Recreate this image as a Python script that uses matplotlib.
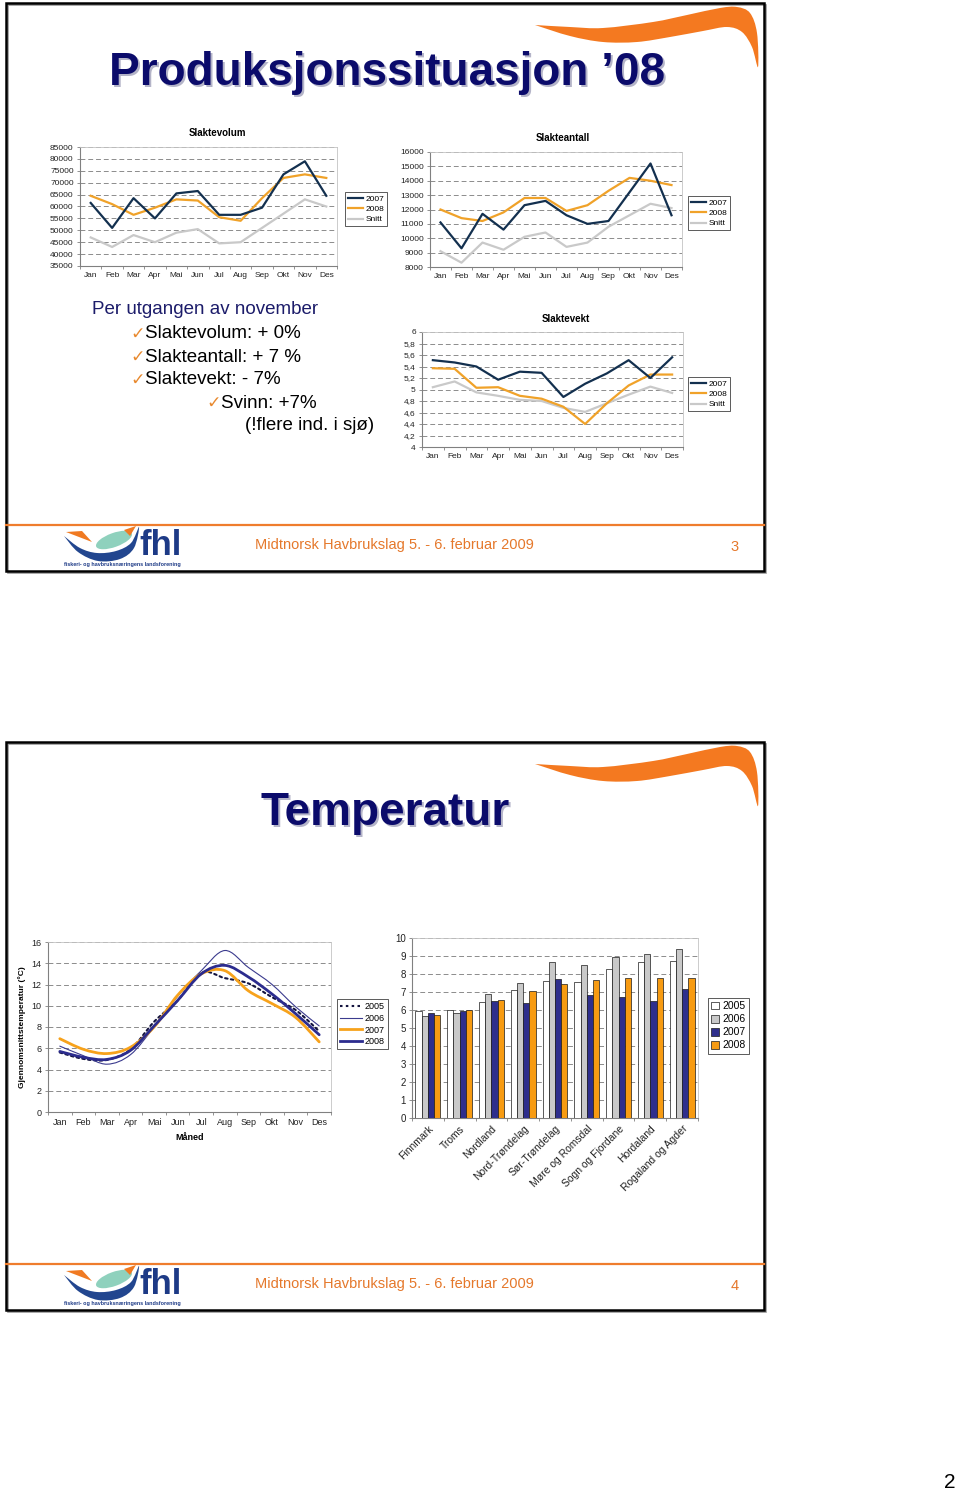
import matplotlib
matplotlib.use('Agg')
import matplotlib.pyplot as plt
from matplotlib.path import Path
from matplotlib.patches import PathPatch, Rectangle, Ellipse, Polygon
from matplotlib.lines import Line2D
import numpy as np

# ---------------- DATA ----------------
months = ['Jan', 'Feb', 'Mar', 'Apr', 'Mai', 'Jun', 'Jul', 'Aug', 'Sep', 'Okt', 'Nov', 'Des']

vol_2007 = [61500, 51000, 63500, 55000, 65500, 66500, 56500, 56500, 59500, 73500, 79000, 64500]
vol_2008 = [64500, 61000, 56500, 59500, 63000, 62500, 55500, 54000, 63500, 72000, 73500, 72000]
vol_snitt = [47000, 43000, 48000, 45000, 49000, 50500, 44500, 45000, 51000, 57000, 63000, 60000]
vol_ticks = [35000, 40000, 45000, 50000, 55000, 60000, 65000, 70000, 75000, 80000, 85000]
vol_ticklabels = ['35000', '40000', '45000', '50000', '55000', '60000', '65000', '70000', '75000', '80000', '85000']

ant_2007 = [11100, 9300, 11700, 10600, 12300, 12600, 11600, 11000, 11200, 13200, 15200, 11600]
ant_2008 = [12000, 11400, 11200, 11800, 12800, 12800, 11900, 12300, 13300, 14200, 14000, 13700]
ant_snitt = [9100, 8300, 9700, 9200, 10100, 10400, 9400, 9700, 10800, 11600, 12400, 12100]
ant_ticks = [8000, 9000, 10000, 11000, 12000, 13000, 14000, 15000, 16000]
ant_ticklabels = ['8000', '9000', '10000', '11000', '12000', '13000', '14000', '15000', '16000']

vekt_2007 = [5.51, 5.47, 5.40, 5.17, 5.31, 5.29, 4.87, 5.10, 5.28, 5.51, 5.20, 5.56]
vekt_2008 = [5.37, 5.36, 5.03, 5.04, 4.89, 4.84, 4.70, 4.40, 4.76, 5.07, 5.26, 5.26]
vekt_snitt = [5.04, 5.14, 4.95, 4.89, 4.82, 4.80, 4.68, 4.61, 4.76, 4.91, 5.05, 4.94]
vekt_ticks = [4.0, 4.2, 4.4, 4.6, 4.8, 5.0, 5.2, 5.4, 5.6, 5.8, 6.0]
vekt_ticklabels = ['4', '4,2', '4,4', '4,6', '4,8', '5', '5,2', '5,4', '5,6', '5,8', '6']

temp_2005 = [5.6, 5.0, 4.9, 5.9, 8.5, 10.5, 13.1, 12.6, 12.1, 10.8, 9.6, 7.6]
temp_2006 = [6.2, 5.3, 4.5, 5.4, 8.0, 10.9, 13.3, 15.2, 13.6, 12.0, 9.9, 8.1]
temp_2007 = [6.9, 5.9, 5.5, 6.1, 8.0, 11.0, 13.0, 13.3, 11.4, 10.2, 8.9, 6.6]
temp_2008 = [5.7, 5.15, 4.95, 5.8, 8.1, 10.5, 13.0, 13.8, 12.7, 11.1, 9.25, 7.27]
temp_ticks = [0, 2, 4, 6, 8, 10, 12, 14, 16]
temp_ticklabels = ['0', '2', '4', '6', '8', '10', '12', '14', '16']

regions = ['Finnmark', 'Troms', 'Nordland', 'Nord-Trøndelag', 'Sør-Trøndelag',
           'Møre og Romsdal', 'Sogn og Fjordane', 'Hordaland', 'Rogaland og Agder']
reg_2005 = [5.94, 6.02, 6.44, 7.09, 7.59, 7.56, 8.30, 8.67, 8.72]
reg_2006 = [5.65, 5.84, 6.90, 7.50, 8.67, 8.48, 8.94, 9.09, 9.37]
reg_2007 = [5.85, 5.94, 6.48, 6.41, 7.74, 6.85, 6.72, 6.50, 7.19]
reg_2008 = [5.70, 5.98, 6.55, 7.06, 7.43, 7.69, 7.78, 7.80, 7.78]
bar_ticks = [0, 1, 2, 3, 4, 5, 6, 7, 8, 9, 10]
bar_ticklabels = ['0', '1', '2', '3', '4', '5', '6', '7', '8', '9', '10']

# ---------------- STYLE ----------------
W, H = 960, 1494
plt.rcParams['font.family'] = ['Liberation Sans', 'DejaVu Sans']
NAVY = '#13304f'
ORANGE = '#f0a229'
GREY = '#c9c9c9'
TITLE_NAVY = '#0b0b6b'
FOOT_OR = '#e5782b'

fig = plt.figure(figsize=(W / 100, H / 100), dpi=100)
fig.patch.set_facecolor('white')

bg = fig.add_axes([0, 0, 1, 1], zorder=0)
bg.set_xlim(0, W)
bg.set_ylim(H, 0)
bg.axis('off')


def pax(x0, y0, x1, y1):
    return fig.add_axes([x0 / W, 1 - y1 / H, (x1 - x0) / W, (y1 - y0) / H], zorder=2)


def smooth_path(pts, close=False):
    pts = [np.array(p, dtype=float) for p in pts]
    n = len(pts)
    verts = [pts[0]]
    codes = [Path.MOVETO]
    for i in range(n - 1):
        p0 = pts[i - 1] if i > 0 else pts[i]
        p1 = pts[i]
        p2 = pts[i + 1]
        p3 = pts[i + 2] if i + 2 < n else pts[i + 1]
        c1 = p1 + (p2 - p0) / 6.0
        c2 = p2 - (p3 - p1) / 6.0
        verts += [c1, c2, p2]
        codes += [Path.CURVE4] * 3
    if close:
        verts.append(pts[0])
        codes.append(Path.CLOSEPOLY)
    return Path(verts, codes)


def style_axes(ax, yticks, ylabels, fs, ncat):
    ax.set_ylim(yticks[0], yticks[-1])
    ax.set_yticks(yticks)
    ax.set_yticklabels(ylabels, fontsize=fs, color='#222222')
    ax.set_xlim(-0.5, ncat - 0.5)
    ax.set_xticks(np.arange(ncat))
    ax.set_xticks(np.arange(ncat + 1) - 0.5, minor=True)
    ax.grid(axis='y', which='major', color='#8c8c8c', linestyle=(0, (5, 3)), lw=0.7)
    ax.set_axisbelow(True)
    for s in ['top', 'right']:
        ax.spines[s].set_color('#c4c4c4')
        ax.spines[s].set_linewidth(0.6)
    for s in ['left', 'bottom']:
        ax.spines[s].set_color('#808080')
        ax.spines[s].set_linewidth(0.8)
    ax.tick_params(axis='y', length=2.5, width=0.6, color='#808080', pad=2)
    ax.tick_params(axis='x', which='major', length=0, pad=4)
    ax.tick_params(axis='x', which='minor', length=2.5, width=0.6, color='#808080')


def legend_at(ax, handles, labels, x, y, fs, hl=1.8):
    lg = ax.legend(handles, labels, loc='upper left', bbox_to_anchor=(x / W, 1 - y / H),
                   bbox_transform=fig.transFigure, fontsize=fs, frameon=True, fancybox=False,
                   edgecolor='#404040', framealpha=1, borderpad=0.35, handlelength=hl,
                   handletextpad=0.3, labelspacing=0.3, borderaxespad=0)
    lg.get_frame().set_linewidth(0.6)
    return lg


def line_chart(rect, title, title_xy, s2007, s2008, ssnitt, yt, ylab, leg_xy):
    ax = pax(*rect)
    x = np.arange(len(months))
    h1, = ax.plot(x, ssnitt, color=GREY, lw=1.6)
    h2, = ax.plot(x, s2008, color=ORANGE, lw=1.6)
    h3, = ax.plot(x, s2007, color=NAVY, lw=1.6)
    style_axes(ax, yt, ylab, 6, len(months))
    ax.set_xticklabels(months, fontsize=6, color='#222222')
    bg.text(title_xy[0], title_xy[1], title, fontsize=7, fontweight='bold', ha='center', va='center')
    legend_at(ax, [h3, h2, h1], ['2007', '2008', 'Snitt'], leg_xy[0], leg_xy[1], 6)
    return ax


# ---------------- SLIDE DECORATIONS ----------------
swoosh = [(535, 25), (570, 27), (603, 28), (653, 22), (687, 15), (720, 8), (737, 7),
          (750, 13), (757, 33), (758, 67), (752, 47), (742, 32), (727, 27), (703, 31),
          (670, 37), (637, 42), (603, 42), (570, 36), (535, 25)]

for k, off in enumerate([0, 739]):
    bg.add_patch(Rectangle((8, 5 + off), 758, 568, fill=False, ec='#9a9a9a', lw=1.2))
    bg.add_patch(Rectangle((6, 3 + off), 758, 568, fill=False, ec='black', lw=1.8))
    sp = smooth_path([(px, py + off) for px, py in swoosh], close=True)
    bg.add_patch(PathPatch(sp, fc='#f47920', ec='none'))
    bg.plot([6, 764], [525 + off, 525 + off], color='#ef7d2d', lw=1.6)
    bg.text(255, 545 + off, 'Midtnorsk Havbrukslag 5. - 6. februar 2009', fontsize=10.5,
            color=FOOT_OR, ha='left', va='center')
    bg.text(735, 547 + off, str(3 + k), fontsize=10.5, color=FOOT_OR, ha='center', va='center')
    # logo
    wave = [(64, 536), (78, 552), (98, 561), (120, 559), (134, 548), (139, 527),
            (131, 543), (116, 551), (97, 553), (80, 548), (64, 536)]
    bg.add_patch(PathPatch(smooth_path([(a, b + off) for a, b in wave], close=True),
                           fc='#22468f', ec='none'))
    bg.add_patch(Ellipse((114, 540 + off), 38, 14, angle=-20, fc='#8fd1bd', ec='none'))
    bg.add_patch(Polygon([(66, 532 + off), (92, 542 + off), (82, 531 + off)], fc='#f07a22', ec='none'))
    bg.add_patch(Polygon([(124, 530 + off), (136, 526 + off), (130, 536 + off)], fc='#f07a22', ec='none'))
    bg.text(139, 555 + off, 'fhl', fontsize=25, fontweight='bold', color='#1d3a86',
            ha='left', va='baseline')
    bg.text(64, 564.5 + off, 'fiskeri- og havbruksnæringens landsforening', fontsize=3.9,
            fontweight='bold', color='#1d3a86', ha='left', va='center')

# titles with shadow
for txt, cx, cy in [('Produksjonssituasjon ’08', 387, 73), ('Temperatur', 385, 813)]:
    bg.text(cx + 2, cy + 2, txt, fontsize=33, fontweight='bold', color='#b4b4c8', ha='center', va='center')
    bg.text(cx, cy, txt, fontsize=33, fontweight='bold', color=TITLE_NAVY, ha='center', va='center')

# bullet text
bg.text(92, 310, 'Per utgangen av november', fontsize=13.5, color='#1c1c6a', ha='left', va='center')
bullets = [(130, 145, 334, 'Slaktevolum: + 0%'), (130, 145, 357, 'Slakteantall: + 7 %'),
           (130, 145, 380, 'Slaktevekt: - 7%'), (206, 221, 403, 'Svinn: +7%')]
for cxk, tx, ty, t in bullets:
    bg.text(cxk, ty, '✓', fontsize=12.5, color='#e8892e', ha='left', va='center', family='DejaVu Sans')
    bg.text(tx, ty, t, fontsize=13.5, color='black', ha='left', va='center')
bg.text(245, 425, '(!flere ind. i sjø)', fontsize=13.5, color='black', ha='left', va='center')

bg.text(950, 1483, '2', fontsize=15, color='black', ha='center', va='center')

# ---------------- CHARTS: SLIDE 1 ----------------
line_chart((80, 147, 337, 266), 'Slaktevolum', (217, 133), vol_2007, vol_2008, vol_snitt,
           vol_ticks, vol_ticklabels, (345, 192))
line_chart((430, 152, 682, 267), 'Slakteantall', (563, 138), ant_2007, ant_2008, ant_snitt,
           ant_ticks, ant_ticklabels, (688, 196))
line_chart((422, 332, 683, 447), 'Slaktevekt', (566, 319), vekt_2007, vekt_2008, vekt_snitt,
           vekt_ticks, vekt_ticklabels, (688, 377))

# ---------------- TEMPERATURE LINE CHART ----------------
axt = pax(48, 942, 331, 1112)
style_axes(axt, temp_ticks, temp_ticklabels, 6.5, len(months))
axt.set_xticklabels(months, fontsize=6.5, color='#222222')
xm = np.arange(len(months))
temp_styles = [
    ('2005', temp_2005, dict(color='#14143f', lw=1.5, linestyle=(0, (1.2, 1.6)))),
    ('2006', temp_2006, dict(color='#3b3b8e', lw=0.8, linestyle='-')),
    ('2007', temp_2007, dict(color='#f7a21b', lw=2.0, linestyle='-')),
    ('2008', temp_2008, dict(color='#2c2c8e', lw=2.0, linestyle='-')),
]
handles = []
for name, vals, st in temp_styles:
    p = smooth_path(list(zip(xm, vals)))
    axt.add_patch(PathPatch(p, fill=False, ec=st['color'], lw=st['lw'], linestyle=st['linestyle'],
                            capstyle='round'))
    handles.append(Line2D([], [], color=st['color'], lw=st['lw'], linestyle=st['linestyle']))
legend_at(axt, handles, [t[0] for t in temp_styles], 337, 999, 6.5, hl=2.4)
bg.text(22, 1027, 'Gjennomsnittstemperatur (°C)', fontsize=6, fontweight='bold', rotation=90,
        ha='center', va='center')
bg.text(190, 1138, 'Måned', fontsize=6.5, fontweight='bold', ha='center', va='center')

# ---------------- REGION BAR CHART ----------------
axb = pax(412, 938, 698, 1118)
style_axes(axb, bar_ticks, bar_ticklabels, 7, len(regions))
xr = np.arange(len(regions))
bw = 0.195
bar_series = [('2005', reg_2005, '#ffffff'), ('2006', reg_2006, '#c9c9c9'),
              ('2007', reg_2007, '#2e2e8c'), ('2008', reg_2008, '#f79b12')]
bh = []
for i, (name, vals, col) in enumerate(bar_series):
    b = axb.bar(xr + (i - 1.5) * bw, vals, width=bw, color=col, edgecolor='#1a1a1a', lw=0.5, zorder=3)
    bh.append(b)
axb.set_xticklabels(regions, fontsize=7.5, rotation=45, ha='right', va='top',
                    rotation_mode='anchor', color='#222222')
lgb = axb.legend(bh, [s[0] for s in bar_series], loc='upper left',
                 bbox_to_anchor=(708 / W, 1 - 998 / H), bbox_transform=fig.transFigure,
                 fontsize=7.5, frameon=True, fancybox=False, edgecolor='#404040', framealpha=1,
                 borderpad=0.3, handlelength=0.8, handleheight=0.8, handletextpad=0.3,
                 labelspacing=0.3, borderaxespad=0)
lgb.get_frame().set_linewidth(0.6)

fig.savefig('out.png', dpi=100, facecolor='white')
